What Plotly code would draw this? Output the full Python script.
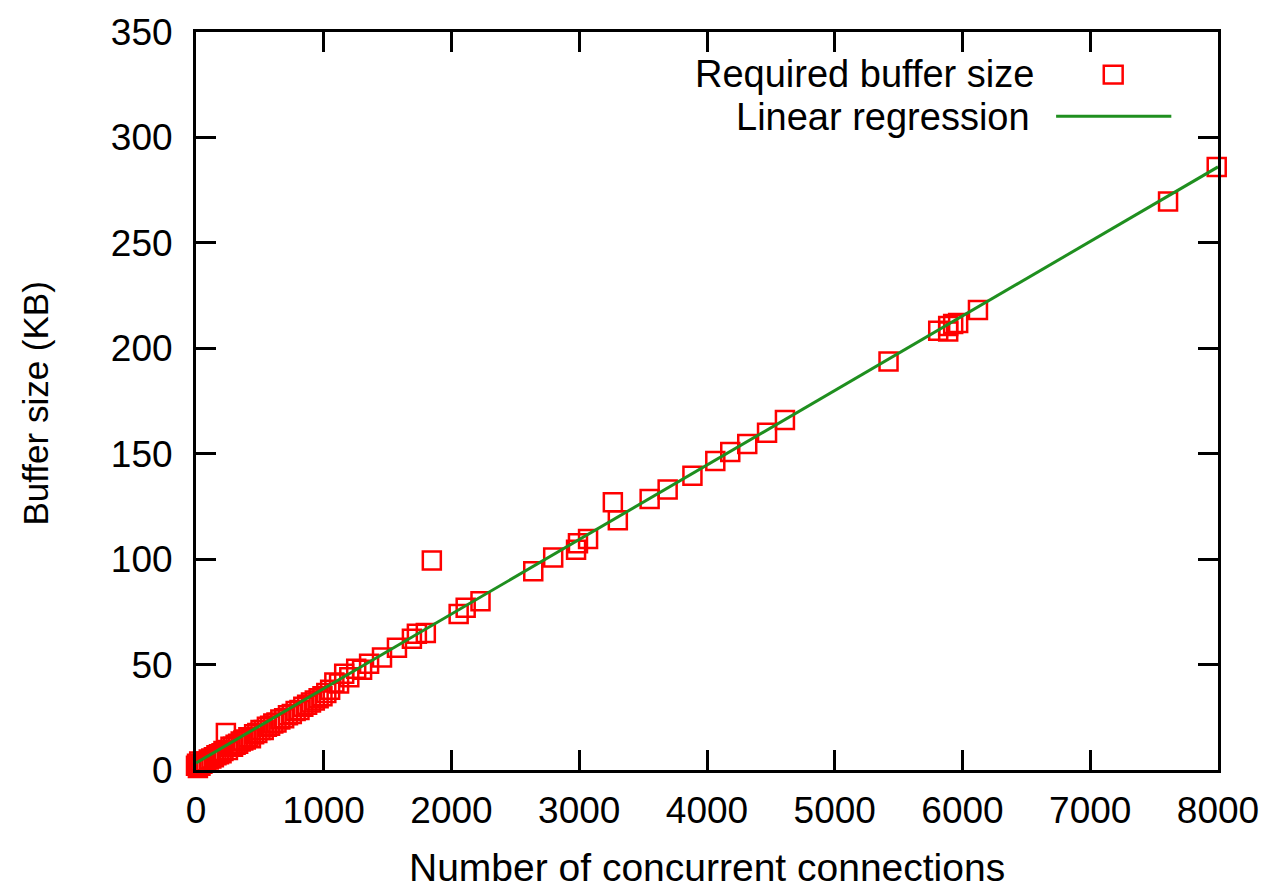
import plotly.graph_objects as go

# ---- data ----
connections = [0, 8, 15, 25, 35, 50, 65, 80, 100, 120,
               140, 160, 180, 200, 215, 234, 250, 270, 290, 310,
               330, 350, 370, 390, 410, 430, 455, 480, 505, 530,
               555, 580, 605, 630, 660, 690, 720, 750, 780, 810,
               840, 870, 900, 930, 960, 990, 1020, 1050, 1083, 1120,
               1160, 1200, 1254, 1300, 1355, 1456, 1573, 1690, 1729, 1799,
               1846, 2056, 2111, 2227, 2640, 2796, 2975, 2990, 3069, 3263,
               3302, 3551, 3692, 3886, 4065, 4182, 4315, 4470, 4610, 5421,
               5810, 5888, 5888, 5927, 5966, 6121, 7609, 7990]
buffer_kb = [2, 3, 1, 4, 2, 3, 4, 3.5, 5, 5.5,
             6, 7, 7.5, 8, 9, 17.5, 9.5, 11, 11, 12,
             12.5, 13.5, 14, 14.5, 15.5, 15, 17, 17.5, 19, 19,
             20.5, 21, 22, 22.5, 24, 24.5, 26, 26.5, 28, 28.5,
             30, 31, 32, 33, 34, 35, 36.5, 38, 41.5, 41,
             45.7, 44, 48, 47.5, 50.4, 53.3, 58, 62.2, 64.6, 65,
             99.4, 74, 77, 80, 94.3, 100.8, 104.5, 107.5, 109.5, 127,
             118.5, 128.5, 133, 139.5, 146.5, 150.8, 154.6, 160, 166, 193.7,
             208.3, 210.6, 208, 211.5, 212, 218.2, 269.6, 286]

reg_slope = 0.03534
reg_intercept = 3.3
reg_x = [0, 8000]
reg_y = [reg_slope * v + reg_intercept for v in reg_x]

x_ticks = [0, 1000, 2000, 3000, 4000, 5000, 6000, 7000, 8000]
y_ticks = [0, 50, 100, 150, 200, 250, 300, 350]

RED = "#ff0000"
GREEN = "#1f8f1f"
FONT = "Liberation Sans, Arial, sans-serif"

# plot-area geometry in pixels
W, H = 1271, 892
L, R, T, B = 196, 46, 25, 122
PW, PH = W - L - R, H - T - B


def px(xp):
    return (xp - L) / PW


def py(yp):
    return (H - B - yp) / PH


fig = go.Figure()
fig.add_trace(go.Scatter(
    x=connections, y=buffer_kb, mode="markers",
    name="Required buffer size",
    marker=dict(symbol="square-open", size=18, color=RED,
                line=dict(color=RED, width=2.5)),
    cliponaxis=False, showlegend=False,
))
fig.add_trace(go.Scatter(
    x=reg_x, y=reg_y, mode="lines", name="Linear regression",
    line=dict(color=GREEN, width=3), showlegend=False,
))

axis_common = dict(
    showline=True, linecolor="black", linewidth=3, mirror="ticks",
    ticks="inside", ticklen=20, tickwidth=3, tickcolor="black",
    showgrid=False, zeroline=False,
    tickfont=dict(family=FONT, size=37, color="black"),
)

fig.update_xaxes(range=[0, 8000], tickvals=x_ticks,
                 ticktext=[str(v) for v in x_ticks],
                 ticklabelstandoff=6, **axis_common)
fig.update_yaxes(range=[0, 350], tickvals=y_ticks,
                 ticktext=[str(v) for v in y_ticks],
                 ticklabelstandoff=13, **axis_common)

annotations = [
    dict(text="Number of concurrent connections", x=px(711), y=py(868),
         xref="paper", yref="paper", showarrow=False,
         xanchor="center", yanchor="middle",
         font=dict(family=FONT, size=39, color="black")),
    dict(text="Buffer size (KB)", x=px(34), y=py(400),
         xref="paper", yref="paper", showarrow=False, textangle=-90,
         xanchor="center", yanchor="middle",
         font=dict(family=FONT, size=35, color="black")),
    dict(text="Required buffer size", x=px(1042), y=py(67),
         xref="paper", yref="paper", showarrow=False,
         xanchor="right", yanchor="middle",
         font=dict(family=FONT, size=38, color="black")),
    dict(text="Linear regression", x=px(1038), y=py(111),
         xref="paper", yref="paper", showarrow=False,
         xanchor="right", yanchor="middle",
         font=dict(family=FONT, size=38, color="black")),
]

shapes = [
    dict(type="rect", xref="paper", yref="paper",
         x0=px(1110), x1=px(1129), y0=py(59), y1=py(77),
         line=dict(color=RED, width=2.5)),
    dict(type="line", xref="paper", yref="paper",
         x0=px(1062), x1=px(1178), y0=py(110), y1=py(110),
         line=dict(color=GREEN, width=3)),
]

fig.update_layout(
    width=W, height=H,
    margin=dict(l=L, r=R, t=T, b=B, pad=0),
    paper_bgcolor="white", plot_bgcolor="white",
    showlegend=False,
    annotations=annotations, shapes=shapes,
)

fig.write_html(
    "out.html",
    config={"displayModeBar": False},
    post_script="document.body.style.margin='0';document.body.style.padding='0';"
                "document.body.style.overflow='hidden';",
)
